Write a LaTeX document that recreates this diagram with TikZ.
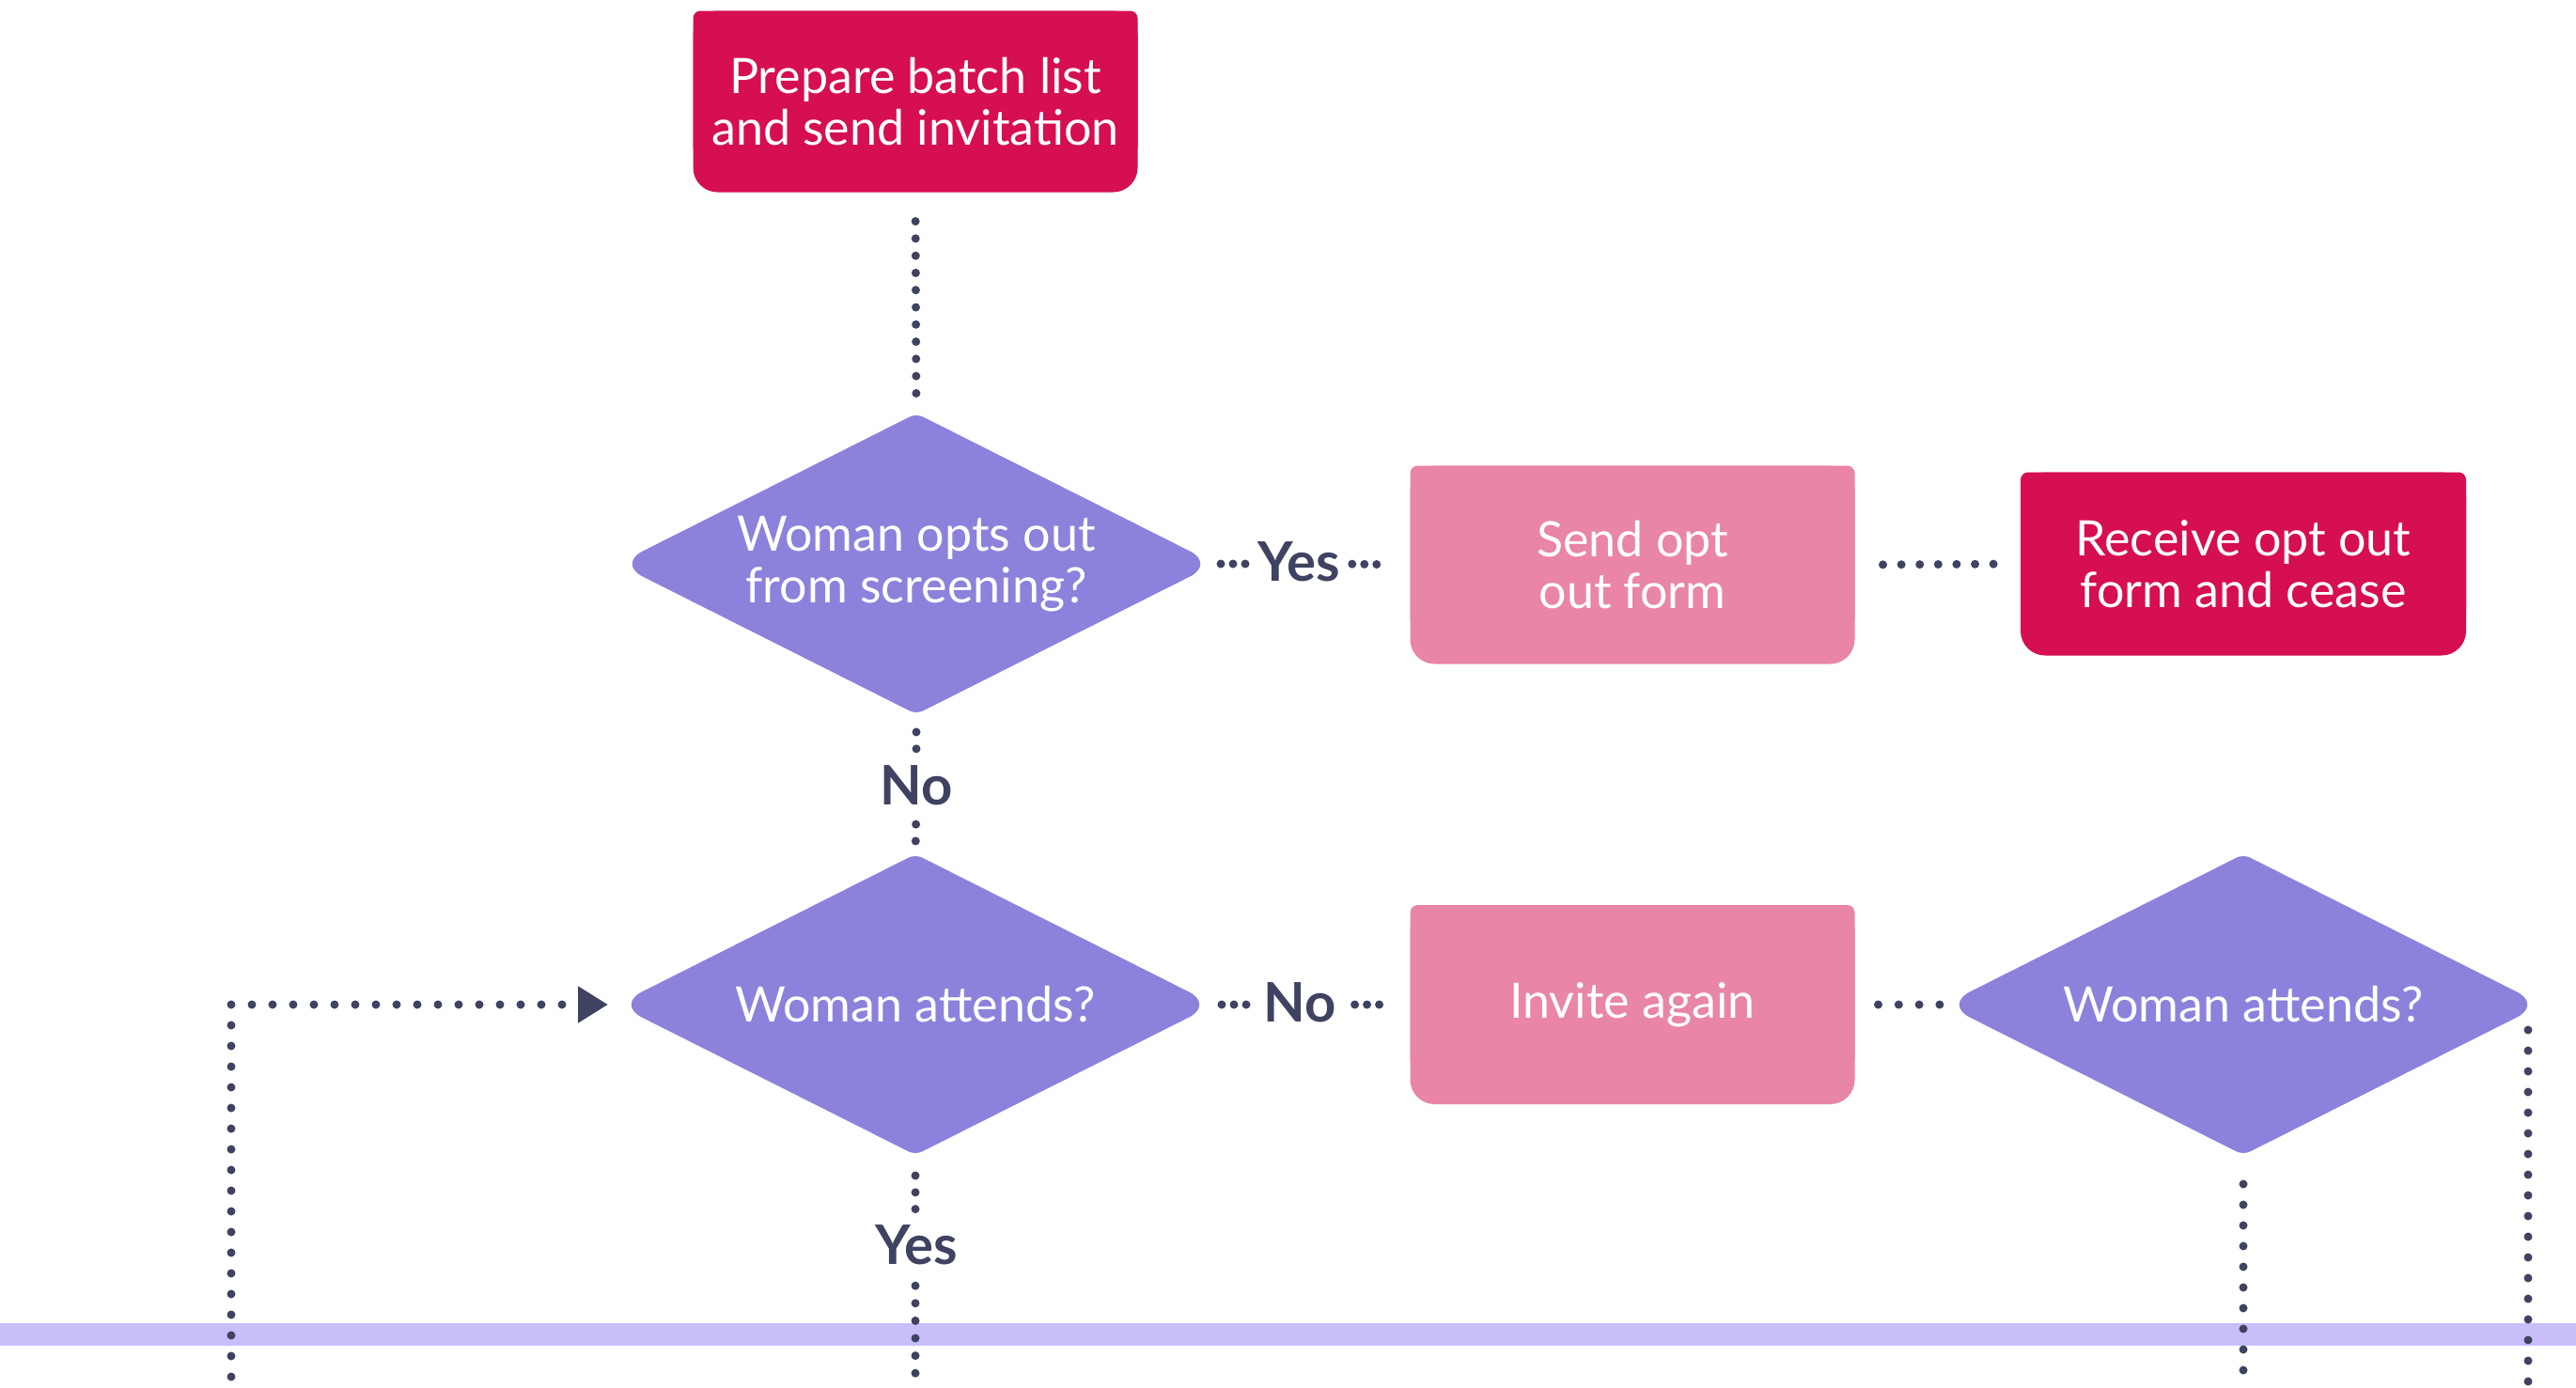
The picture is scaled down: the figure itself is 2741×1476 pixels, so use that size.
\documentclass[tikz,border=0pt]{standalone}
\usepackage{fontspec}
\setmainfont{Lato}
\usetikzlibrary{arrows.meta,backgrounds,calc}
\definecolor{crim}{HTML}{D60E52}
\definecolor{pinkb}{HTML}{E985A6}
\definecolor{purp}{HTML}{8C82DC}
\definecolor{dk}{HTML}{3F4361}
\definecolor{bandc}{HTML}{C8BEFA}
\tikzset{
  boxnode/.style={rectangle, inner sep=0pt, outer sep=0pt, minimum width=473pt,
    text=white, font=\fontsize{52}{55}\selectfont, align=center},
  decnode/.style={rectangle, inner sep=0pt, outer sep=0pt,
    minimum width=636pt, minimum height=320pt, text=white,
    font=\fontsize{52}{55}\selectfont, align=center},
  lbl/.style={inner sep=0pt, outer sep=0pt, text=dk, font=\fontsize{58}{60}\selectfont\bfseries},
  dl/.style={draw=dk, line width=9pt, line cap=round, dash pattern=on 0pt off #1},
}
\newcommand\boxfill[2]{%
  \fill[#2, rounded corners=26pt] (#1.north west) rectangle (#1.south east);
  \fill[#2, rounded corners=8pt] (#1.north west) rectangle ([yshift=40pt]#1.south east);
}
\newcommand\decfill[1]{%
  \fill[purp] ($(#1.west)!30pt!(#1.north)$)
    -- ($(#1.north)!8pt!(#1.west)$)
    .. controls ($(#1.north)!3.6pt!(#1.west)$) and ($(#1.north)!3.6pt!(#1.east)$) .. ($(#1.north)!8pt!(#1.east)$)
    -- ($(#1.east)!30pt!(#1.north)$)
    .. controls ($(#1.east)!13.5pt!(#1.north)$) and ($(#1.east)!13.5pt!(#1.south)$) .. ($(#1.east)!30pt!(#1.south)$)
    -- ($(#1.south)!8pt!(#1.east)$)
    .. controls ($(#1.south)!3.6pt!(#1.east)$) and ($(#1.south)!3.6pt!(#1.west)$) .. ($(#1.south)!8pt!(#1.west)$)
    -- ($(#1.west)!30pt!(#1.south)$)
    .. controls ($(#1.west)!13.5pt!(#1.south)$) and ($(#1.west)!13.5pt!(#1.north)$) .. ($(#1.west)!30pt!(#1.north)$)
    -- cycle;
}
\begin{document}
\begin{tikzpicture}[x=1pt,y=-1pt]
\useasboundingbox (0,0) rectangle (2741,1476);
\fill[bandc] (0,1408) rectangle (2741,1432);
\coordinate (bot) at (0,1476);
\coordinate (lp) at (246,1476);

% process boxes
\node[boxnode, minimum height=193pt] (b1) at (974,108) {Prepare batch list\\and send invitation};
\node[boxnode, minimum height=211pt] (s1) at (1737,601) {Send opt\\out form};
\node[boxnode, minimum height=195pt, minimum width=474pt] (r1) at (2387,600) {Receive opt out\\form and cease};
\node[boxnode, minimum height=212pt] (inv) at (1737,1069) {Invite again};

% decisions
\node[decnode] (d1) at (975,600) {Woman opts out\\from screening?};
\node[decnode] (d2) at (974,1069) {Woman attends?};
\node[decnode] (d3) at (2387,1069) {Woman attends?};
\coordinate (d3r) at ([xshift=-15pt]d3.east);

\begin{scope}[on background layer]
  \boxfill{b1}{crim}
  \boxfill{s1}{pinkb}
  \boxfill{r1}{crim}
  \boxfill{inv}{pinkb}
  \decfill{d1}
  \decfill{d2}
  \decfill{d3}
\end{scope}

% labels
\node[lbl] (yes1) at (1382,598) {Yes};
\node[lbl] (no1) at (975,836) {No};
\node[lbl] (no2) at (1383,1067) {No};
\node[lbl] (yes2) at (975,1325) {Yes};

% connectors
\draw[dl=18.3pt, shorten <=31pt, shorten >=20pt] (b1.south) -- (d1.north);
\draw[dl=13pt, shorten <=6pt, shorten >=8pt] (d1.east) -- (d1.east -| yes1.west);
\draw[dl=13pt, shorten <=13pt, shorten >=30pt] (d1.east -| yes1.east) -- (s1.west);
\draw[dl=19.6pt, shorten <=30pt, shorten >=28pt] (s1.east) -- (r1.west);
\draw[dl=17.8pt, shorten <=19pt, shorten >=16pt] (d1.south) -- (no1.north);
\draw[dl=17.8pt, shorten <=20pt, shorten >=13pt] (no1.south) -- (d2.north);
\draw[dl=13pt, shorten <=8pt, shorten >=16pt] (d2.east) -- (d2.east -| no2.west);
\draw[dl=13pt, shorten <=20pt, shorten >=30pt] (d2.east -| no2.east) -- (inv.west);
\draw[dl=21.8pt, shorten <=25pt, shorten >=5pt] (inv.east) -- (d3.west);
\draw[dl=17.8pt, shorten <=22pt, shorten >=16pt] (d2.south) -- (d2.south |- yes2.north);
\draw[dl=18.6pt, shorten <=22pt] (d2.south |- yes2.south) -- (d2.south |- bot);
\draw[dl=22pt, shorten <=31pt] (d3.south) -- (d3.south |- bot);
\draw[dl=22pt, shorten <=27pt] (d3r) -- (d3r |- bot);
\draw[dl=22pt, dash phase=11pt, -{Triangle[length=32pt,width=37pt]}, shorten >=9pt] (lp) |- (d2.west);
\end{tikzpicture}
\end{document}
